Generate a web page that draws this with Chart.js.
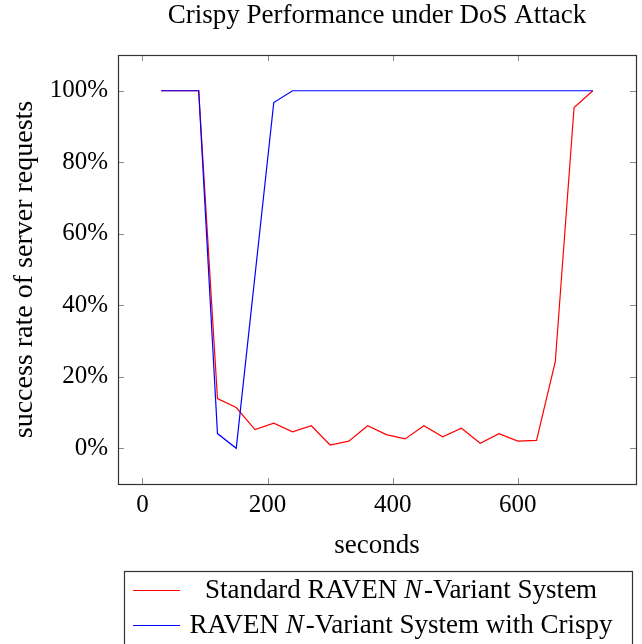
<!DOCTYPE html>
<html>
<head>
<meta charset="utf-8">
<script src="https://cdn.jsdelivr.net/npm/chart.js@4/dist/chart.umd.min.js"></script>
<style>
html,body{margin:0;padding:0;background:#fff;}
#wrap{width:642px;height:644px;position:relative;}
</style>
</head>
<body>
<div id="wrap"><canvas id="c" width="642" height="644"></canvas></div>
<script>
// ---- data ----
const seconds = [30,60,90,120,150,180,210,240,270,300,330,360,390,420,450,480,510,540,570,600,630,660,690,720];
const standardRaven = [100,100,100,13.9,11.4,5.2,7.0,4.6,6.3,0.9,2.0,6.3,3.8,2.6,6.3,3.2,5.6,1.4,4.1,2.0,2.2,24.2,95.3,100];
const ravenCrispy = [100,100,100,4.1,0,null,96.7,100,100,100,100,100,100,100,100,100,100,100,100,100,100,100,100,100];
const seriesLabels = ['Standard RAVEN N-Variant System', 'RAVEN N-Variant System with Crispy'];
const xTicks = [0,200,400,600];
const yTicks = [0,20,40,60,80,100];
const chartTitle = 'Crispy Performance under DoS Attack';
const xTitle = 'seconds';
const yTitle = 'success rate of server requests';

const SERIF = '"Liberation Serif", "Times New Roman", serif';

function pts(vals){ return seconds.map((s,i)=>({x:s,y:vals[i]})); }

const innerTicks = {
  id:'innerTicks',
  afterDatasetsDraw(chart){
    const {ctx, chartArea:a, scales:{x,y}} = chart;
    ctx.save();
    ctx.strokeStyle='#8a8a8a'; ctx.lineWidth=1;
    const L=6;
    ctx.beginPath();
    x.ticks.forEach(t=>{
      const px=Math.round(x.getPixelForValue(t.value))+0.5;
      ctx.moveTo(px,a.bottom); ctx.lineTo(px,a.bottom-L);
      ctx.moveTo(px,a.top); ctx.lineTo(px,a.top+L);
    });
    y.ticks.forEach(t=>{
      const py=Math.round(y.getPixelForValue(t.value))+0.5;
      ctx.moveTo(a.left,py); ctx.lineTo(a.left+L,py);
      ctx.moveTo(a.right,py); ctx.lineTo(a.right-L,py);
    });
    ctx.stroke();
    ctx.strokeStyle='#333'; ctx.lineWidth=1.2;
    ctx.strokeRect(Math.round(a.left)+0.5, Math.round(a.top)+0.5, Math.round(a.right-a.left), Math.round(a.bottom-a.top));
    ctx.restore();
  }
};

const boxLegend = {
  id:'boxLegend',
  afterDraw(chart){
    const ctx=chart.ctx;
    ctx.save();
    ctx.strokeStyle='#333'; ctx.lineWidth=1.2;
    ctx.strokeRect(124.5,571.5,508,90);
    const rowsY=[590,625];
    const fs=27;
    chart.data.datasets.slice().sort((a,b)=>a.legendIndex-b.legendIndex).forEach((ds,i)=>{
      const yy=rowsY[i];
      ctx.strokeStyle=ds.borderColor; ctx.lineWidth=1.2;
      ctx.beginPath(); ctx.moveTo(133,yy+0.5); ctx.lineTo(180,yy+0.5); ctx.stroke();
      const label=ds.label;
      const k=label.indexOf('N-');
      const segs=[[label.slice(0,k),'normal'],['N','italic'],[label.slice(k+1),'normal']];
      let w=0;
      segs.forEach(s=>{ctx.font=s[1]+' '+fs+'px '+SERIF; w+=ctx.measureText(s[0]).width + (s[1]==='italic'?2:0);});
      let xx=401-w/2;
      ctx.fillStyle='#000'; ctx.textBaseline='middle';
      segs.forEach(s=>{ctx.font=s[1]+' '+fs+'px '+SERIF; ctx.fillText(s[0],xx,yy+1); xx+=ctx.measureText(s[0]).width+(s[1]==='italic'?2:0);});
    });
    ctx.restore();
  }
};

new Chart(document.getElementById('c'), {
  type:'line',
  data:{
    datasets:[
      {label:seriesLabels[0], data:pts(standardRaven), borderColor:'#ff0000', borderWidth:1.2, pointRadius:0, tension:0, fill:false, order:1, legendIndex:0},
      {label:seriesLabels[1], data:pts(ravenCrispy), borderColor:'#0000ff', borderWidth:1.2, pointRadius:0, tension:0, fill:false, spanGaps:true, order:0, legendIndex:1}
    ]
  },
  options:{
    responsive:false,
    animation:false,
    devicePixelRatio:1,
    layout:{padding:{left:0,right:6,top:0,bottom:80}},
    plugins:{
      legend:{display:false},
      tooltip:{enabled:false},
      title:{display:true, fullSize:false, text:chartTitle, color:'#000', font:{family:SERIF, size:27, weight:'normal', lineHeight:1}, padding:{top:2,bottom:26}}
    },
    scales:{
      x:{
        type:'linear', min:-39, max:789,
        afterBuildTicks:s=>{s.ticks=xTicks.map(v=>({value:v}));},
        afterFit:s=>{s.height=80;},
        grid:{display:false, drawTicks:false},
        border:{display:false},
        ticks:{color:'#000', padding:6, font:{family:SERIF,size:25}, maxRotation:0},
        title:{display:true, text:xTitle, color:'#000', font:{family:SERIF,size:27}, padding:{top:0,bottom:2}}
      },
      y:{
        type:'linear', min:-10, max:110,
        afterBuildTicks:s=>{s.ticks=yTicks.map(v=>({value:v}));},
        afterFit:s=>{s.width=118;},
        grid:{display:false, drawTicks:false},
        border:{display:false},
        ticks:{color:'#000', padding:10, font:{family:SERIF,size:25}, callback:v=>v+'%'},
        title:{display:true, text:yTitle, color:'#000', font:{family:SERIF,size:28}, padding:{top:8,bottom:0}}
      }
    }
  },
  plugins:[innerTicks, boxLegend]
});
</script>
</body>
</html>
